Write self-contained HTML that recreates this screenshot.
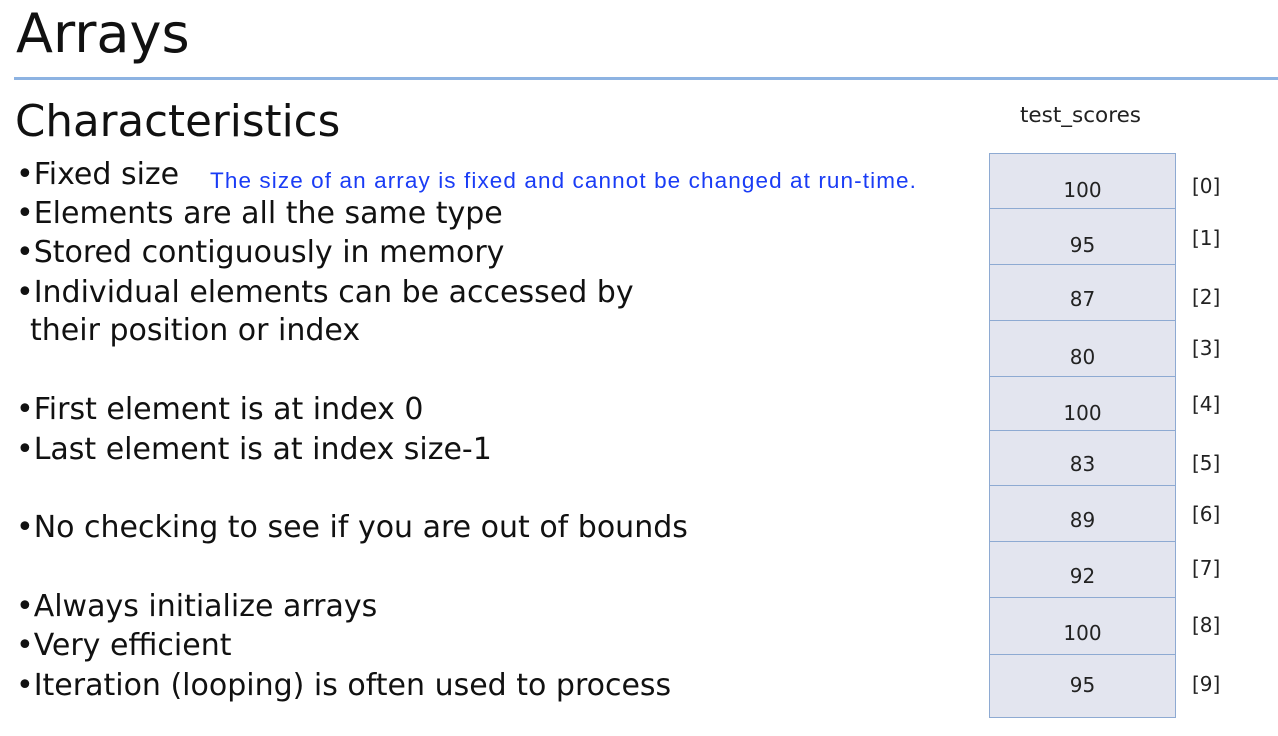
<!DOCTYPE html>
<html><head><meta charset="utf-8"><style>
body{margin:0;width:1278px;height:736px;background:#fff;position:relative;overflow:hidden;font-family:"DejaVu Sans","Liberation Sans",sans-serif;color:#111}
.a{position:absolute;white-space:nowrap}
.b{font-size:30px;line-height:1}
.cell{position:absolute;left:989px;width:187px;background:#e3e5ef;border:1.5px solid #8eaad2;box-sizing:border-box;text-align:center;font-size:20px;color:#222}
.idx{position:absolute;left:1192px;font-size:20px;color:#222}
</style></head><body>
<div class="a" style="left:16px;top:2px;font-size:54px">Arrays</div>
<div style="position:absolute;left:14px;top:77px;width:1264px;height:3px;background:#8db3e2"></div>
<div class="a" style="left:15px;top:97px;font-size:43.5px">Characteristics</div>
<div class="a" style="left:1020px;top:103px;font-size:21.5px;color:#222">test_scores</div>
<div class="a b" style="left:16px;top:160px">•Fixed size</div>
<div class="a" style="left:210px;top:168px;font-size:22.5px;letter-spacing:1.1px;color:#1a3cf5;font-family:'Liberation Sans',sans-serif">The size of an array is fixed and cannot be changed at run-time.</div>
<div class="a b" style="left:16px;top:199px">•Elements are all the same type</div>
<div class="a b" style="left:16px;top:238px">•Stored contiguously in memory</div>
<div class="a b" style="left:16px;top:278px">•Individual elements can be accessed by</div>
<div class="a b" style="left:30px;top:316px">their position or index</div>
<div class="a b" style="left:16px;top:395px">•First element is at index 0</div>
<div class="a b" style="left:16px;top:435px">•Last element is at index size-1</div>
<div class="a b" style="left:16px;top:513px">•No checking to see if you are out of bounds</div>
<div class="a b" style="left:16px;top:592px">•Always initialize arrays</div>
<div class="a b" style="left:16px;top:631px">•Very efficient</div>
<div class="a b" style="left:16px;top:671px">•Iteration (looping) is often used to process</div>

<div class="cell" style="top:153px;height:56px;line-height:72px">100</div>
<div class="cell" style="top:208px;height:57px;line-height:72px">95</div>
<div class="cell" style="top:264px;height:57px;line-height:68px">87</div>
<div class="cell" style="top:320px;height:57px;line-height:72px">80</div>
<div class="cell" style="top:376px;height:55px;line-height:72px">100</div>
<div class="cell" style="top:430px;height:56px;line-height:66px">83</div>
<div class="cell" style="top:485px;height:57px;line-height:68px">89</div>
<div class="cell" style="top:541px;height:57px;line-height:68px">92</div>
<div class="cell" style="top:597px;height:58px;line-height:70px">100</div>
<div class="cell" style="top:654px;height:64px;line-height:60px">95</div>

<div class="idx" style="top:174px">[0]</div>
<div class="idx" style="top:226px">[1]</div>
<div class="idx" style="top:285px">[2]</div>
<div class="idx" style="top:336px">[3]</div>
<div class="idx" style="top:392px">[4]</div>
<div class="idx" style="top:451px">[5]</div>
<div class="idx" style="top:502px">[6]</div>
<div class="idx" style="top:556px">[7]</div>
<div class="idx" style="top:613px">[8]</div>
<div class="idx" style="top:672px">[9]</div>
</body></html>
